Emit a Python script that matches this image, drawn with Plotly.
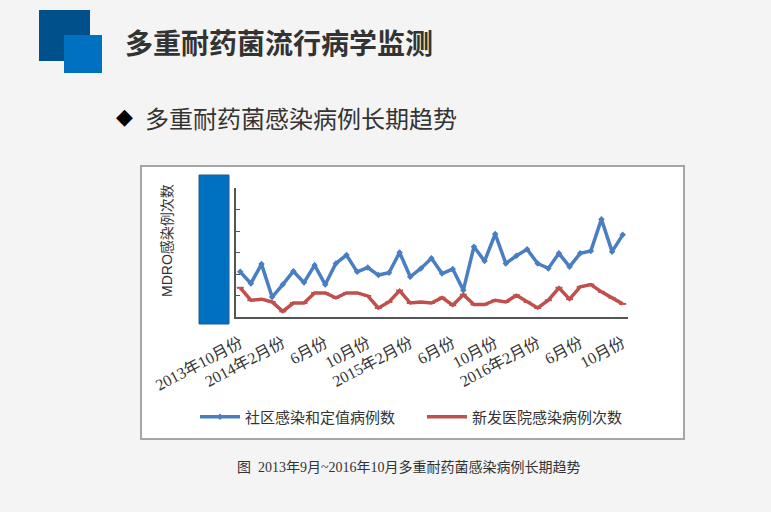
import plotly.graph_objects as go

W, H = 771, 512

# 2013年10月 ~ 2016年10月, monthly
months = []
y, m = 2013, 10
for _ in range(37):
    months.append("%d-%02d" % (y, m))
    m += 1
    if m > 12:
        m = 1
        y += 1

community = [2.1, 1.56, 2.46, 0.93, 1.51, 2.13, 1.6, 2.41, 1.51, 2.49,
             2.88, 2.1, 2.3, 1.95, 2.06, 3.0, 1.87, 2.26, 2.73, 2.02,
             2.23, 1.25, 3.27, 2.6, 3.86, 2.49, 2.85, 3.15, 2.49, 2.26,
             2.96, 2.34, 2.96, 3.07, 4.55, 3.04, 3.82]
hospital = [1.36, 0.78, 0.83, 0.7, 0.26, 0.65, 0.65, 1.12, 1.12, 0.89,
            1.12, 1.12, 0.98, 0.42, 0.7, 1.23, 0.65, 0.7, 0.65, 0.9,
            0.55, 1.04, 0.58, 0.58, 0.78, 0.7, 1.01, 0.7, 0.42, 0.78,
            1.36, 0.83, 1.4, 1.51, 1.17, 0.89, 0.61]

tick_months = months[::4]
tick_text = ["2013年10月份", "2014年2月份", "6月份", "10月份", "2015年2月份",
             "6月份", "10月份", "2016年2月份", "6月份", "10月份"]

series_names = ["社区感染和定值病例数", "新发医院感染病例次数"]


def px(x):
    return x / W


def py(y):
    return 1 - y / H


fig = go.Figure()
fig.add_trace(go.Scatter(
    x=months, y=community, name=series_names[0], mode="lines+markers",
    line=dict(color="#4A7EC2", width=3.5),
    marker=dict(symbol="diamond", size=5, color="#4A7EC2")))
fig.add_trace(go.Scatter(
    x=months, y=hospital, name=series_names[1], mode="lines+markers",
    line=dict(color="#C0504D", width=3.5),
    marker=dict(symbol="line-ew", size=5, color="#C0504D",
                line=dict(color="#C0504D", width=2))))

shapes = [
    # chart frame
    dict(type="rect", xref="paper", yref="paper", layer="below",
         x0=px(141), x1=px(684), y0=py(439), y1=py(166),
         fillcolor="white", line=dict(color="#A6A6A6", width=2)),
    # header squares
    dict(type="rect", xref="paper", yref="paper",
         x0=px(39), x1=px(90), y0=py(61), y1=py(10),
         fillcolor="#00508C", line=dict(width=0)),
    dict(type="rect", xref="paper", yref="paper",
         x0=px(64), x1=px(102), y0=py(73), y1=py(35),
         fillcolor="#0070C0", line=dict(width=0)),
    # blue block over tick labels
    dict(type="rect", xref="paper", yref="paper",
         x0=px(199), x1=px(229), y0=py(324), y1=py(175),
         fillcolor="#0070C0", line=dict(color="#1F5C99", width=1)),
]

annotations = [
    dict(text="<b>多重耐药菌流行病学监测</b>", x=px(123), y=py(42),
         font=dict(size=28, color="#333333", family="Noto Sans CJK SC")),
    dict(text="◆", x=px(114), y=py(116),
         font=dict(size=22, color="black", family="DejaVu Sans")),
    dict(text="多重耐药菌感染病例长期趋势", x=px(143), y=py(117),
         font=dict(size=24, color="#333333", family="Noto Sans CJK SC")),
    dict(text="MDRO感染例次数", x=px(157), y=py(241), textangle=-90,
         font=dict(size=14, color="#333333", family="Liberation Sans, Noto Sans CJK SC")),
    dict(text="图  2013年9月~2016年10月多重耐药菌感染病例长期趋势", x=px(235), y=py(467),
         font=dict(size=14, color="#333333", family="Liberation Serif, Noto Sans CJK SC")),
]
for a in annotations:
    a.update(xref="paper", yref="paper", xanchor="left", yanchor="middle", showarrow=False)

fig.update_layout(
    width=W, height=H,
    margin=dict(l=0, r=0, t=0, b=0),
    paper_bgcolor="#F4F4F4",
    plot_bgcolor="rgba(0,0,0,0)",
    shapes=shapes,
    annotations=annotations,
    showlegend=True,
    legend=dict(orientation="h", x=px(195), y=py(417), xanchor="left", yanchor="middle",
                font=dict(size=15, color="#333333", family="Noto Sans CJK SC"),
                bgcolor="rgba(0,0,0,0)", entrywidth=172, entrywidthmode="pixels",
                itemwidth=40),
    xaxis=dict(domain=[px(236), px(628)], type="category", automargin=False,
               range=[-0.4, 36.5], tickmode="array",
               tickvals=tick_months, ticktext=tick_text, tickangle=-28,
               tickfont=dict(size=16, color="#333333", family="Liberation Serif, Noto Sans CJK SC"),
               showline=True, linecolor="#555555", linewidth=1.5,
               ticks="outside", ticklen=9, tickcolor="rgba(0,0,0,0)",
               showgrid=False, zeroline=False),
    yaxis=dict(domain=[py(317), py(188)], range=[0, 6], dtick=1, automargin=False,
               showline=True, linecolor="#555555", linewidth=1.5,
               ticks="inside", ticklen=4, tickcolor="#555555",
               showticklabels=False, showgrid=False, zeroline=False),
)

fig.write_html("out.html", config={"displayModeBar": False},
               post_script="document.body.style.margin='0';")
